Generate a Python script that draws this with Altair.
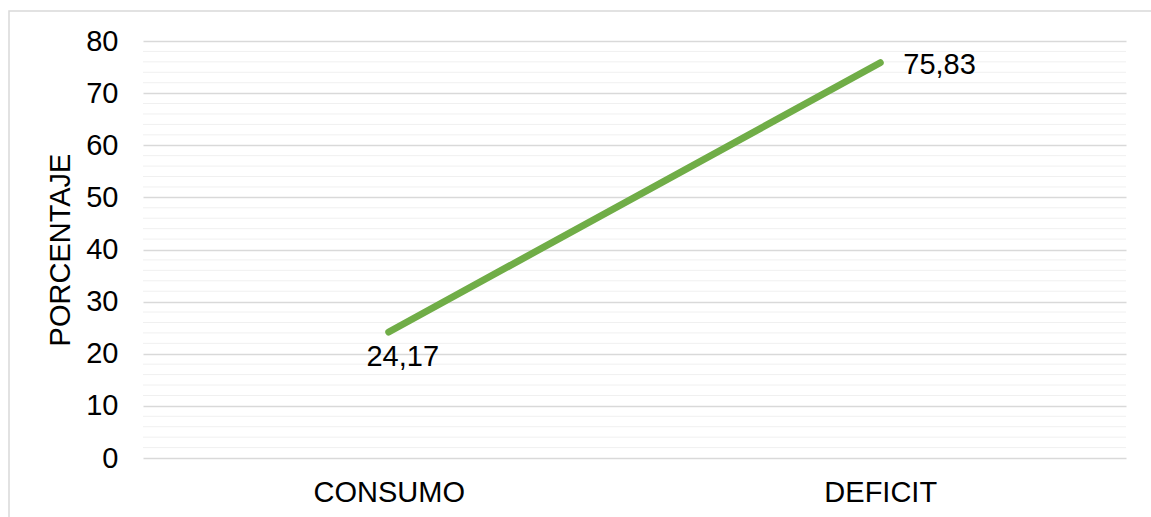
import altair as alt
import pandas as pd

categorias = ["CONSUMO", "DEFICIT"]
porcentajes = [24.17, 75.83]
etiquetas = ["24,17", "75,83"]
marcas_y = list(range(0, 81, 10))
lineas_menores = [v for v in range(0, 81, 2) if v % 10 != 0]

df = pd.DataFrame({"cat": categorias, "valor": porcentajes, "etiqueta": etiquetas})
df_menor = pd.DataFrame({"valor": lineas_menores})

FONT = "Liberation Sans"
FS = 29
W, H = 983, 417

y_scale = alt.Scale(domain=[0, 80], nice=False)
y_axis = alt.Axis(values=marcas_y, title="PORCENTAJE", titleFontSize=FS,
                  titleFont=FONT, titleFontWeight="normal", titleColor="#000000",
                  titlePadding=10, labelFontSize=FS, labelFont=FONT, labelColor="#000000",
                  labelPadding=25, ticks=False, domain=False, gridColor="#d9d9d9",
                  gridWidth=1.5)
x_enc = alt.X("cat:N", sort=categorias, scale=alt.Scale(type="point", padding=0.5),
              axis=alt.Axis(title=None, labelFontSize=FS, labelFont=FONT, labelColor="#000000",
                            labelPadding=20, ticks=False, domain=False, grid=False, labelAngle=0))

# light minor gridlines every 2 units
menores = alt.Chart(df_menor).mark_rule(color="#f0f0f0", strokeWidth=1).encode(
    y=alt.Y("valor:Q", scale=y_scale, axis=y_axis)
)

linea = alt.Chart(df).mark_line(color="#70AD47", strokeWidth=7, strokeCap="round").encode(
    x=x_enc,
    y=alt.Y("valor:Q", scale=y_scale, axis=y_axis),
)

etq_baja = alt.Chart(df[df.cat == "CONSUMO"]).mark_text(
    fontSize=FS, font=FONT, color="#000000", dx=14, dy=25, align="center", baseline="middle"
).encode(x=alt.X("cat:N", sort=categorias), y=alt.Y("valor:Q", scale=y_scale), text="etiqueta:N")

etq_alta = alt.Chart(df[df.cat == "DEFICIT"]).mark_text(
    fontSize=FS, font=FONT, color="#000000", dx=23, dy=2, align="left", baseline="middle"
).encode(x=alt.X("cat:N", sort=categorias), y=alt.Y("valor:Q", scale=y_scale), text="etiqueta:N")

marco = alt.Chart(pd.DataFrame({"k": [0]})).mark_rect(
    fill=None, stroke="#d9d9d9", strokeWidth=1.5
).encode(x=alt.value(-134), x2=alt.value(1030), y=alt.value(-30), y2=alt.value(500))

chart = alt.layer(marco, menores, linea, etq_baja, etq_alta).properties(
    width=W, height=H,
    autosize=alt.AutoSizeParams(type="none"),
    padding={"left": 143, "top": 41, "right": 25, "bottom": 59},
    background="#ffffff",
).configure_view(stroke=None)

chart.save("out.html", embed_options={"renderer": "svg", "actions": False})
